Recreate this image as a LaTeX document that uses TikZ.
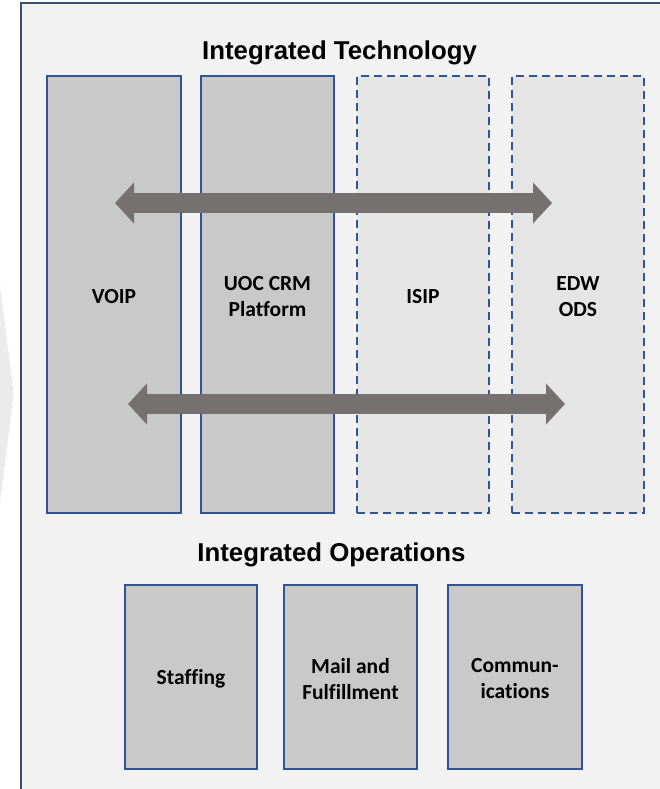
\documentclass[tikz,border=0pt]{standalone}
\usepackage{fontspec}
\setmainfont[Ligatures={NoCommon}]{Carlito}
\newfontfamily\titlefont{Liberation Sans}
\usetikzlibrary{arrows.meta}
\definecolor{panelfill}{HTML}{F2F2F2}
\definecolor{panelline}{HTML}{3B4F72}
\definecolor{boxfill}{HTML}{C9C9C9}
\definecolor{dashfill}{HTML}{E5E5E5}
\definecolor{boxline}{HTML}{2F5597}
\definecolor{arrowgray}{HTML}{767171}
\definecolor{chevfill}{HTML}{EBEBEB}
\tikzset{
  solidbox/.style={draw=boxline, fill=boxfill, line width=1.5pt, inner sep=0pt,
    align=center, font=\bfseries\fontsize{21.5}{26}\selectfont},
  dashbox/.style={solidbox, fill=dashfill, dash pattern=on 8pt off 5pt},
  boxlabel/.style={align=center, inner sep=0pt, font=\bfseries\fontsize{21.5}{26}\selectfont},
  titletext/.style={font=\titlefont\bfseries\fontsize{25.8}{30}\selectfont, anchor=base, inner sep=0pt},
  blockarrow/.style={line width=20pt, arrowgray,
    {Triangle[length=19pt,width=40pt]}-{Triangle[length=19pt,width=40pt]}},
}
\begin{document}
\begin{tikzpicture}[x=1pt,y=-1pt]
\useasboundingbox (0,0) rectangle (659,789);
\fill[white] (0,0) rectangle (659,789);
% faint chevron at left
\filldraw[fill=chevfill, draw=white, line width=0.8pt, dashed] (-1,277) -- (14,393) -- (-1,513) -- cycle;
% outer panel
\fill[panelfill] (21,3) rectangle (662,792);
\draw[panelline, line width=1.4pt] (21,792) -- (21,3) -- (662,3);
% titles
\node[titletext] (ttech) at (339.5,59.5) {Integrated Technology};
\node[titletext] (tops) at (331.5,561) {Integrated Operations};
% technology boxes
\node[solidbox, minimum width=134pt, minimum height=437pt] (voip) at (114,294.5) {};
\node[solidbox, minimum width=133pt, minimum height=437pt] (crm) at (267.5,294.5) {};
\node[dashbox, minimum width=132pt, minimum height=437pt] (isip) at (423,294.5) {};
\node[dashbox, minimum width=132pt, minimum height=437pt] (edw) at (578,294.5) {};
\node[boxlabel] (voipt) at (114,296.5) {VOIP};
\node[boxlabel] (crmt) at (267.5,296.5) {UOC CRM\\Platform};
\node[boxlabel] (isipt) at (423,296.5) {ISIP};
\node[boxlabel] (edwt) at (578,296.5) {EDW\\ODS};
% operations boxes
\node[solidbox, minimum width=132pt, minimum height=184pt] (staff) at (191,677) {};
\node[solidbox, minimum width=133pt, minimum height=184pt] (mail) at (350.5,677) {};
\node[solidbox, minimum width=134pt, minimum height=184pt] (comm) at (515,677) {};
\node[boxlabel] (stafft) at (191,679) {Staffing};
\node[boxlabel] (mailt) at (350.5,679) {Mail and\\Fulfillment};
\node[boxlabel] (commt) at (515,679) {Commun-\\ications};
% block arrows
\coordinate (a1l) at (115,203);
\coordinate (a1r) at (552,203);
\coordinate (a2l) at (128,404);
\coordinate (a2r) at (565,404);
\draw[blockarrow] (a1l) -- (a1r);
\draw[blockarrow] (a2l) -- (a2r);
\end{tikzpicture}
\end{document}
